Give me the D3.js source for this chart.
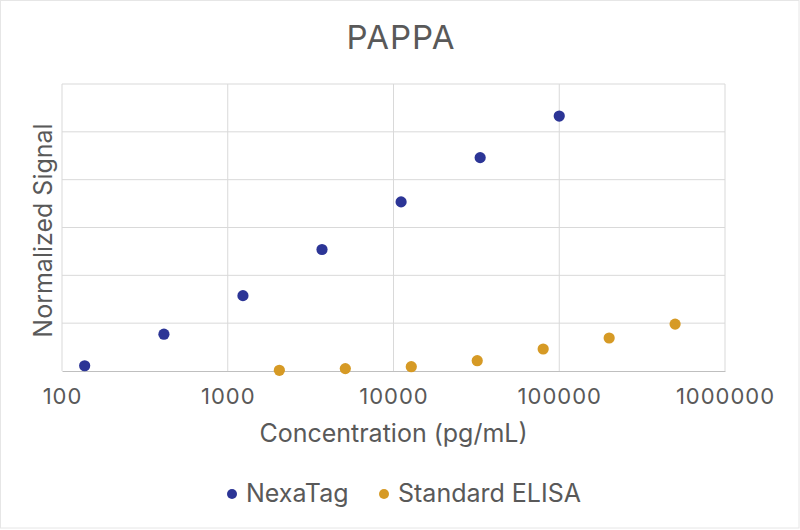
<!DOCTYPE html>
<html>
<head>
<meta charset="utf-8">
<script src="https://cdn.jsdelivr.net/npm/d3@7"></script>
<style>
  html, body { margin: 0; padding: 0; background: #fff; }
  body { font-family: "Inter", "Lato", sans-serif; }
</style>
</head>
<body>
<div id="vis"></div>
<script>
// data
var seriesNames = ["NexaTag", "Standard ELISA"];
var seriesColors = ["#2c3596", "#d69a25"];

var nexaConc = [137, 412, 1235, 3704, 11111, 33333, 100000];
var nexaSignal = [0.11, 0.77, 1.575, 2.54, 3.535, 4.46, 5.33];

var elisaConc = [2048, 5120, 12800, 32000, 80000, 200000, 500000];
var elisaSignal = [0.015, 0.05, 0.09, 0.215, 0.46, 0.69, 0.98];

var xTicks = [100, 1000, 10000, 100000, 1000000];
var yTicks = [0, 1, 2, 3, 4, 5, 6];

var width = 800;
var height = 530;

var margin = {
    top: 84,
    left: 62,
    right: 75,
    bottom: 159
};

var innerW = width - margin.left - margin.right;
var innerH = height - margin.top - margin.bottom;

var textColor = "#595959";

var svg = d3.select("#vis")
    .append("svg")
    .attr("width", width)
    .attr("height", height);

// faint frame round the picture
svg.append("rect")
    .attr("x", 0.5)
    .attr("y", 0.5)
    .attr("width", width - 1.5)
    .attr("height", height - 2.5)
    .attr("fill", "none")
    .attr("stroke", "#e6e6e6");

var g = svg.append("g")
    .attr("transform", "translate(" + margin.left + "," + margin.top + ")");

var xscale = d3.scaleLog()
    .domain([100, 1000000])
    .range([0, innerW]);

var yscale = d3.scaleLinear()
    .domain([0, 6])
    .range([innerH, 0]);

// gridlines
g.append("g")
    .attr("class", "grid x")
    .selectAll("line")
    .data(xTicks)
    .enter()
    .append("line")
    .attr("x1", function(d) { return xscale(d); })
    .attr("x2", function(d) { return xscale(d); })
    .attr("y1", 0)
    .attr("y2", innerH)
    .attr("stroke", "#d9d9d9")
    .attr("stroke-width", 1);

g.append("g")
    .attr("class", "grid y")
    .selectAll("line")
    .data(yTicks.slice(1))
    .enter()
    .append("line")
    .attr("x1", 0)
    .attr("x2", innerW)
    .attr("y1", function(d) { return yscale(d); })
    .attr("y2", function(d) { return yscale(d); })
    .attr("stroke", "#d9d9d9")
    .attr("stroke-width", 1);

// x axis
var xaxis = d3.axisBottom(xscale)
    .tickValues(xTicks)
    .tickFormat(d3.format("d"))
    .tickSize(0)
    .tickPadding(17);

var xg = g.append("g")
    .attr("class", "x axis")
    .attr("transform", "translate(0," + innerH + ")")
    .call(xaxis);

xg.select(".domain")
    .attr("stroke", "#bfbfbf")
    .attr("stroke-width", 1.2);

xg.selectAll("text")
    .style("font-family", '"Inter", sans-serif')
    .style("font-size", "22px")
    .style("letter-spacing", "1px")
    .attr("fill", textColor);

// points
var series = [
    { name: seriesNames[0], color: seriesColors[0], x: nexaConc, y: nexaSignal },
    { name: seriesNames[1], color: seriesColors[1], x: elisaConc, y: elisaSignal }
];

series.forEach(function(s) {
    g.append("g")
        .selectAll("circle")
        .data(d3.range(s.x.length))
        .enter()
        .append("circle")
        .attr("cx", function(i) { return xscale(s.x[i]); })
        .attr("cy", function(i) { return yscale(s.y[i]); })
        .attr("r", 5.6)
        .attr("fill", s.color);
});

// title
svg.append("text")
    .attr("x", 401)
    .attr("y", 49)
    .attr("text-anchor", "middle")
    .style("font-family", '"Inter", sans-serif')
    .style("font-size", "33px")
    .style("letter-spacing", "1px")
    .attr("fill", textColor)
    .text("PAPPA");

// x-axis label
svg.append("text")
    .attr("x", margin.left + innerW / 2 + 0)
    .attr("y", 442)
    .attr("text-anchor", "middle")
    .style("font-family", '"Inter", sans-serif')
    .style("font-size", "25px")
    .attr("fill", textColor)
    .text("Concentration (pg/mL)");

// y axis title
svg.append("text")
    .attr("transform", "translate(52," + (margin.top + innerH / 2 + 3) + ") rotate(-90)")
    .attr("text-anchor", "middle")
    .style("font-family", '"Inter", sans-serif')
    .style("font-size", "25px")
    .attr("fill", textColor)
    .text("Normalized Signal");

// legend
var legendX = [232, 384];
var legend = svg.append("g").attr("class", "legend");

series.forEach(function(s, i) {
    legend.append("circle")
        .attr("cx", legendX[i])
        .attr("cy", 494)
        .attr("r", 5)
        .attr("fill", s.color);
    legend.append("text")
        .attr("x", legendX[i] + 14)
        .attr("y", 502)
        .style("font-family", '"Inter", sans-serif')
        .style("font-size", "25px")
        .attr("fill", textColor)
        .text(s.name);
});
</script>
</body>
</html>
